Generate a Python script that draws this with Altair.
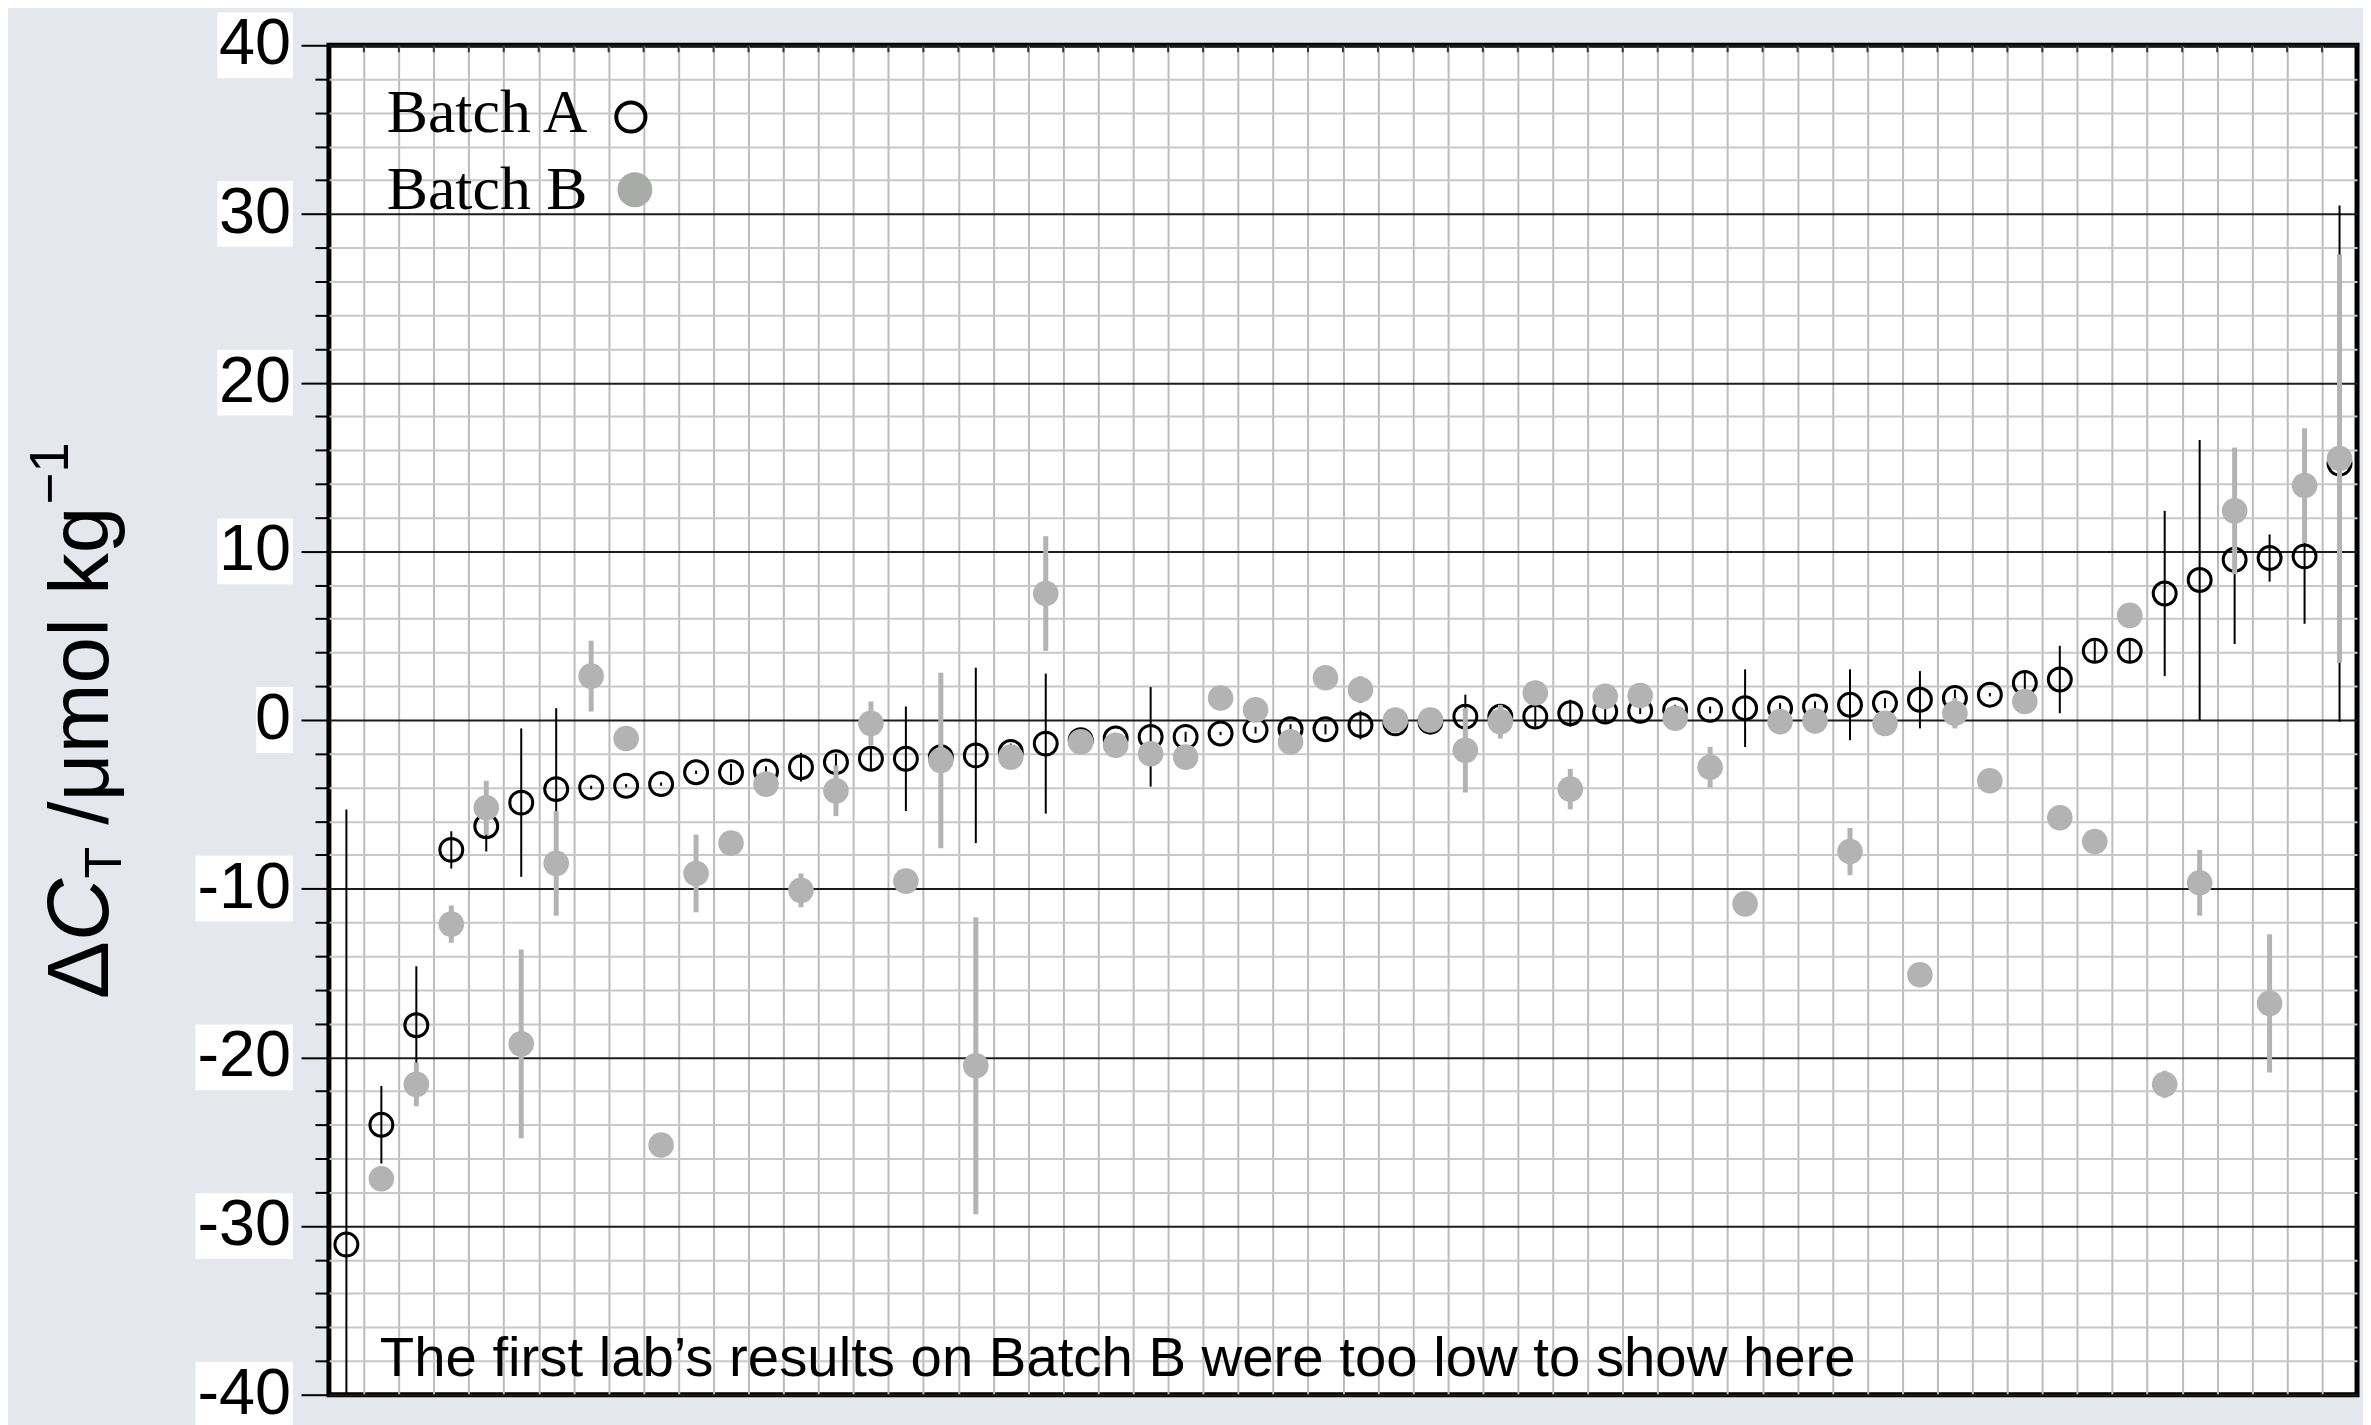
import altair as alt
import pandas as pd

# ---------------- data ----------------
labs = list(range(1, 59))
batch_a = [-31.1, -24.0, -18.1, -7.7, -6.3, -4.9, -4.1, -4.0, -3.9, -3.8,
           -3.1, -3.1, -3.05, -2.8, -2.5, -2.3, -2.3, -2.2, -2.1, -1.9,
           -1.4, -1.2, -1.1, -1.0, -1.0, -0.8, -0.6, -0.55, -0.55, -0.3,
           -0.2, -0.1, 0.2, 0.2, 0.2, 0.4, 0.5, 0.55, 0.6, 0.6,
           0.7, 0.7, 0.8, 0.9, 1.0, 1.2, 1.3, 1.5, 2.2, 2.4,
           4.1, 4.1, 7.5, 8.3, 9.5, 9.6, 9.7, 15.2]
batch_a_err = [25.8, 2.3, 3.5, 1.1, 1.5, 4.4, 4.8, 0.1, 0.1, 0.1,
               0.1, 0.5, 0.3, 0.85, 0.5, 0.7, 3.1, 0.5, 5.2, 0.5,
               4.15, 0.3, 0.3, 2.95, 0.3, 0.1, 0.2, 0.3, 0.3, 0.85,
               0.3, 0.3, 1.3, 0.3, 0.6, 0.8, 0.6, 0.2, 0.3, 0.2,
               2.3, 0.3, 0.3, 2.1, 0.3, 1.7, 0.5, 0.1, 0.6, 2.0,
               0.6, 0.6, 4.9, 8.3, 5.0, 1.4, 4.0, 15.3]
batch_b = [None, -27.2, -21.6, -12.1, -5.2, -19.2, -8.5, 2.6, -1.1, -25.2,
           -9.1, -7.3, -3.8, -10.1, -4.2, -0.2, -9.55, -2.4, -20.5, -2.2,
           7.5, -1.3, -1.5, -2.0, -2.2, 1.3, 0.6, -1.3, 2.5, 1.8,
           0.0, 0.0, -1.8, -0.1, 1.6, -4.1, 1.4, 1.45, 0.1, -2.8,
           -10.9, -0.1, -0.05, -7.8, -0.2, -15.1, 0.4, -3.6, 1.1, -5.8,
           -7.2, 6.2, -21.6, -9.65, 12.4, -16.8, 13.9, 15.5]
batch_b_err = [None, 0.3, 1.3, 1.1, 1.6, 5.6, 3.1, 2.1, 0.3, 0.3,
               2.3, 0.3, 0.4, 1.0, 1.5, 1.3, 0.4, 5.2, 8.8, 0.3,
               3.4, 0.3, 0.3, 0.3, 0.3, 0.3, 0.3, 0.3, 0.3, 0.8,
               0.3, 0.3, 2.5, 1.0, 0.3, 1.2, 0.3, 0.3, 0.3, 1.2,
               0.3, 0.3, 0.3, 1.4, 0.3, 0.3, 0.9, 0.3, 0.3, 0.3,
               0.3, 0.3, 0.8, 1.95, 3.75, 4.1, 3.4, 12.1]

tick_values = [40, 30, 20, 10, 0, -10, -20, -30, -40]
tick_labels = ["40", "30", "20", "10", "0", "-10", "-20", "-30", "-40"]
legend_labels = ["Batch A", "Batch B"]
note_text = "The first lab\u2019s results on Batch B were too low to show here"
title_parts = ["\u0394", "C", "T", "/\u03bcmol kg", "\u22121"]

df = pd.DataFrame({"lab": labs, "a": batch_a, "a_err": batch_a_err,
                   "b": batch_b, "b_err": batch_b_err})
ticks_df = pd.DataFrame({"v": tick_values, "label": tick_labels})

# ---------------- styling ----------------
PLOT_W, PLOT_H = 2035, 1354
GRAY_B = "#b3b3b3"
SANS = "Liberation Sans"
SERIF = "Liberation Serif"

xscale = alt.Scale(domain=[0.5, 58.5], nice=False, zero=False)
yscale = alt.Scale(domain=[-40, 40], nice=False, zero=False)

major = "datum.value % 10 === 0"
x_axis = alt.Axis(values=[i + 0.5 for i in range(1, 58)], grid=True,
                  gridColor="#bcbcbc", gridWidth=2, labels=False, ticks=False,
                  domain=False, title=None)
y_axis = alt.Axis(values=list(range(-40, 41, 2)), grid=True, title=None,
                  labels=False, domain=False,
                  gridColor={"condition": {"test": major, "value": "#1c1c1c"}, "value": "#c8c8c8"},
                  gridWidth=2, ticks=True, tickColor="#000", tickWidth=2,
                  tickSize={"condition": {"test": major, "value": 28}, "value": 14})

X = alt.X("lab:Q", scale=xscale, axis=x_axis)

base = alt.Chart(df)

a_err = base.mark_rule(color="black", strokeWidth=2, clip=True).transform_calculate(
    lo="datum.a - datum.a_err", hi="datum.a + datum.a_err"
).encode(x=X, y=alt.Y("lo:Q", scale=yscale, axis=y_axis), y2="hi:Q")

a_pts = base.mark_point(shape="circle", filled=False, color="black",
                        strokeWidth=3, size=530, opacity=1).encode(
    x=X, y=alt.Y("a:Q", scale=yscale, axis=y_axis))

b_err = base.transform_filter("isValid(datum.b)").transform_calculate(
    lo="datum.b - datum.b_err", hi="datum.b + datum.b_err"
).mark_rule(color=GRAY_B, strokeWidth=5, clip=True).encode(
    x=X, y=alt.Y("lo:Q", scale=yscale, axis=y_axis), y2="hi:Q")

b_pts = base.transform_filter("isValid(datum.b)").mark_circle(
    color=GRAY_B, size=660, opacity=1).encode(
    x=X, y=alt.Y("b:Q", scale=yscale, axis=y_axis))

# small tick marks hanging from the top border at each cell boundary
top_ticks = base.transform_filter("datum.lab > 1").transform_calculate(
    edge="datum.lab - 0.5"
).mark_rule(color="#333", strokeWidth=2).encode(
    x=alt.X("edge:Q", scale=xscale, axis=x_axis), y=alt.value(0), y2=alt.value(7))

# white boxes behind the y tick labels
tick_base = alt.Chart(ticks_df).transform_calculate(
    top="datum.v + 1.95", bot="datum.v - 1.95")


def box(nchar, left):
    return tick_base.transform_filter(f"length(datum.label) == {nchar}").mark_rect(
        color="white").encode(
        x=alt.value(left), x2=alt.value(-36),
        y=alt.Y("top:Q", scale=yscale, axis=y_axis), y2="bot:Q")


boxes = [box(1, -73), box(2, -112), box(3, -134)]

tick_text = alt.Chart(ticks_df).mark_text(
    align="right", baseline="alphabetic", dy=19, fontSize=65, font=SANS,
    color="black").encode(
    x=alt.value(-38), y=alt.Y("v:Q", scale=yscale, axis=y_axis), text="label:N")


def text_layer(txt, x, y, **kw):
    return alt.Chart(pd.DataFrame({"t": [txt]})).mark_text(**kw).encode(
        x=alt.value(x), y=alt.value(y), text="t:N")


def symbol_layer(x, y, **kw):
    return alt.Chart(pd.DataFrame({"t": [0]})).mark_point(**kw).encode(
        x=alt.value(x), y=alt.value(y))


legend = [
    text_layer(legend_labels[0], 58, 87, align="left", baseline="alphabetic",
               font=SERIF, fontSize=62, color="black"),
    text_layer(legend_labels[1], 58, 164, align="left", baseline="alphabetic",
               font=SERIF, fontSize=62, color="black"),
    symbol_layer(303, 72, shape="circle", filled=False, color="black",
                 strokeWidth=4, size=855, opacity=1),
    symbol_layer(307, 145, shape="circle", filled=True, color="#a9aba9",
                 size=1225, opacity=1),
]

note = text_layer(note_text, 51, 1335, align="left", baseline="alphabetic",
                  font=SANS, fontSize=56.5, color="black")

tkw = dict(align="left", baseline="alphabetic", angle=270, font=SANS, color="black")
title = [
    text_layer(title_parts[0], -222, 957, fontSize=87, **tkw),
    text_layer(title_parts[1], -222, 899, fontSize=87, fontStyle="italic", **tkw),
    text_layer(title_parts[2], -209, 836, fontSize=52, **tkw),
    text_layer(title_parts[3], -222, 782, fontSize=84, **tkw),
    text_layer(title_parts[4], -262, 461, fontSize=55, **tkw),
]

chart = alt.layer(
    a_err, a_pts, b_err, b_pts, top_ticks, *boxes, tick_text, *legend, note, *title
).properties(
    width=PLOT_W, height=PLOT_H,
    autosize=alt.AutoSizeParams(type="none"),
    padding={"left": 322, "top": 35, "right": 6, "bottom": 28},
).configure(background="#e4e7ed").configure_view(
    fill="white", stroke="#000", strokeWidth=5)

chart.save("out.html", embed_options={"renderer": "svg", "actions": False})
